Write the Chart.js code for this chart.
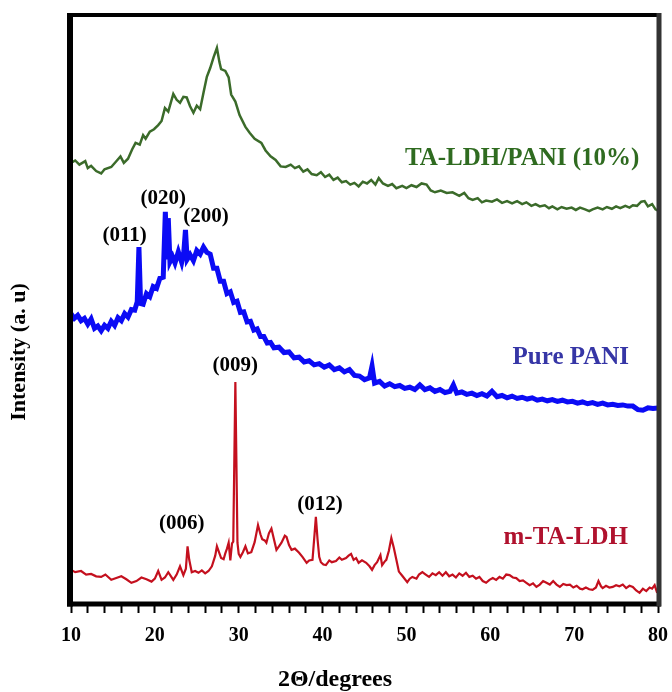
<!DOCTYPE html>
<html>
<head>
<meta charset="utf-8">
<script src="https://cdn.jsdelivr.net/npm/chart.js@4"></script>
<style>
  body { margin: 0; background: #fff; }
  #wrap { width: 672px; height: 692px; }
</style>
</head>
<body>
<div id="wrap"><canvas id="xrd" width="672" height="692"></canvas></div>
<script>
// 2 theta (deg) and intensity (a.u., stacked offsets as in the figure)
const greenTheta = [10.0,10.5,11.0,11.7,12.0,12.4,13.0,13.6,14.0,14.8,15.3,15.9,16.3,16.8,17.3,17.7,18.2,18.6,18.9,19.4,19.9,20.4,20.8,21.2,21.6,22.2,22.6,23.0,23.4,23.8,24.2,24.6,25.0,25.4,25.8,26.2,26.6,27.0,27.4,27.7,27.9,28.4,28.8,29.1,29.6,30.1,30.8,31.3,31.9,32.7,33.2,33.8,34.4,35.0,35.6,36.2,36.7,37.2,37.7,38.2,38.7,39.3,39.8,40.3,40.8,41.3,41.8,42.3,42.8,43.3,43.8,44.3,44.8,45.3,45.8,46.3,46.7,47.2,47.8,48.3,48.8,49.5,50.0,50.6,51.2,51.8,52.4,52.9,53.4,54.1,54.8,55.5,56.3,56.9,57.4,57.9,58.5,59.0,59.5,60.2,60.8,61.4,62.0,62.6,63.2,63.8,64.3,64.9,65.4,65.9,66.5,67.0,67.4,68.0,68.5,69.1,69.7,70.2,70.7,71.3,71.8,72.2,72.8,73.4,73.9,74.5,75.0,75.5,76.1,76.6,77.0,77.5,78.0,78.4,78.8,79.3,79.7,80.0]
const greenInt = [74.9,75.3,74.6,75.2,74.0,74.4,73.5,73.1,73.8,74.2,75.0,76.0,74.9,75.6,77.2,78.3,78.0,79.6,79.0,80.2,80.6,81.3,82.0,84.2,83.6,86.6,85.6,85.1,86.1,86.0,84.5,83.4,84.6,84.0,86.8,89.5,91.0,92.8,94.4,92.0,90.8,90.5,89.4,86.5,85.3,83.0,81.0,80.0,79.0,78.3,77.0,76.0,75.4,74.3,74.2,74.6,74.0,74.3,73.4,73.8,73.0,72.8,73.3,72.5,72.9,72.0,72.4,71.6,71.8,71.2,71.5,70.9,71.7,71.4,72.0,71.2,72.3,71.4,71.0,71.3,70.6,71.0,70.6,71.1,70.8,71.4,71.2,70.2,69.9,70.2,69.8,69.9,69.3,69.8,68.9,68.6,68.9,68.2,68.5,68.3,68.7,68.1,68.4,68.0,68.4,67.9,68.2,67.6,67.9,67.5,67.7,67.2,67.5,67.0,67.4,67.1,67.3,66.9,67.3,67.0,66.7,67.0,67.3,67.0,67.4,67.1,67.5,67.2,67.6,67.3,67.7,67.6,68.3,68.4,67.5,67.9,67.0,66.8]

const blueTheta = [10.0,10.4,10.8,11.2,11.6,12.0,12.4,12.8,13.2,13.6,14.0,14.4,14.8,15.2,15.6,16.0,16.4,16.8,17.2,17.6,17.9,18.1,18.3,18.6,19.0,19.4,19.8,20.2,20.6,21.0,21.25,21.45,21.6,21.8,22.1,22.4,22.8,23.2,23.45,23.65,23.85,24.2,24.6,25.0,25.4,25.8,26.2,26.6,27.0,27.4,27.8,28.2,28.6,29.0,29.4,29.8,30.2,30.6,31.0,31.4,31.8,32.2,32.6,33.0,33.4,33.8,34.2,34.8,35.4,36.0,36.6,37.2,37.8,38.4,39.0,39.6,40.2,40.8,41.4,42.0,42.6,43.2,43.8,44.4,45.0,45.6,45.9,46.2,46.8,47.4,48.0,48.6,49.2,49.8,50.4,51.0,51.6,52.2,52.8,53.4,54.0,54.6,55.2,55.6,56.0,56.6,57.2,57.8,58.4,59.0,59.6,60.2,60.8,61.4,62.0,62.6,63.2,63.8,64.4,65.0,65.6,66.2,66.8,67.4,68.0,68.6,69.2,69.8,70.4,71.0,71.6,72.2,72.8,73.4,74.0,74.6,75.2,75.8,76.4,77.0,77.6,78.2,78.8,79.4,80.0]
const blueInt = [49.3,48.5,49.0,48.1,48.5,47.5,48.4,46.8,47.2,46.4,47.3,46.8,48.0,47.3,48.6,48.1,49.3,48.7,50.0,49.9,51.3,60.6,51.0,50.9,52.7,52.2,53.9,53.6,55.3,55.5,66.6,58.5,65.5,58.1,59.0,57.9,59.8,58.0,59.7,63.5,58.5,59.3,58.3,60.0,59.4,60.6,59.7,59.4,57.0,57.0,54.8,54.8,52.7,53.0,51.2,51.4,49.5,49.6,47.9,48.0,46.5,46.7,45.4,45.4,44.3,44.4,43.5,43.6,42.7,42.8,41.8,41.9,41.1,41.3,40.6,40.8,40.2,40.6,39.8,40.1,39.4,39.8,38.8,38.7,38.1,38.4,40.4,37.5,37.8,37.0,37.4,36.9,37.1,36.6,36.8,36.4,37.2,36.4,36.7,36.1,36.4,35.9,36.1,37.2,35.8,36.0,35.6,35.8,35.4,35.7,35.3,36.1,35.2,35.4,35.0,35.3,34.9,35.1,34.8,35.0,34.6,34.8,34.5,34.7,34.4,34.6,34.3,34.4,34.1,34.3,34.0,34.2,33.9,34.1,33.8,33.9,33.7,33.8,33.6,33.6,33.0,32.9,33.3,33.2,33.3]

const redTheta = [10.0,10.5,11.2,11.8,12.4,13.0,13.6,14.1,14.8,15.4,16.0,16.6,17.2,17.8,18.4,19.0,19.6,20.0,20.4,20.8,21.2,21.6,22.2,22.6,23.0,23.4,23.7,23.9,24.1,24.4,24.8,25.2,25.6,26.0,26.4,26.8,27.2,27.4,27.7,27.9,28.2,28.4,28.6,28.8,29.0,29.2,29.35,29.6,29.85,30.0,30.2,30.5,30.8,31.1,31.5,31.9,32.3,32.6,32.8,33.1,33.3,33.6,33.9,34.2,34.5,34.8,35.1,35.5,35.7,36.0,36.3,36.7,37.2,37.6,38.1,38.4,38.8,39.05,39.2,39.4,39.6,39.8,40.1,40.4,40.8,41.1,41.6,42.0,42.3,42.8,43.1,43.4,43.7,44.0,44.3,44.7,45.2,45.6,45.9,46.2,46.5,46.9,47.1,47.4,47.6,47.9,48.2,48.5,48.8,49.1,49.5,50.1,50.4,50.7,51.2,51.5,51.9,52.3,52.7,53.1,53.5,53.9,54.3,54.7,55.1,55.5,55.9,56.3,56.7,57.1,57.5,57.9,58.3,58.7,59.1,59.5,59.9,60.3,60.7,61.1,61.5,61.9,62.3,62.7,63.1,63.5,63.9,64.3,64.7,65.1,65.5,65.9,66.3,66.7,67.1,67.5,67.9,68.3,68.7,69.1,69.5,69.9,70.3,70.7,71.0,71.4,71.8,72.2,72.6,72.9,73.2,73.4,73.8,74.2,74.6,75.0,75.4,75.8,76.2,76.6,77.0,77.4,77.8,78.2,78.6,79.0,79.3,79.6,79.9]
const redInt = [5.8,5.4,5.6,5.0,5.1,4.7,4.6,5.0,4.1,4.4,4.7,4.2,3.6,3.9,4.5,4.2,3.8,4.3,5.6,4.1,4.5,5.4,4.1,5.0,6.4,4.9,6.0,9.8,7.5,5.4,5.6,5.3,5.7,5.2,5.6,6.4,8.2,9.8,8.6,7.8,7.6,8.6,9.4,10.4,7.4,10.3,10.6,37.7,10.4,8.5,8.0,8.8,9.8,8.6,8.8,10.5,13.4,11.8,11.0,10.8,10.4,12.0,12.8,11.0,9.2,9.8,10.4,11.6,11.4,10.0,9.2,9.4,8.7,8.0,7.0,7.4,7.5,12.0,14.8,11.0,8.0,7.1,6.7,6.6,7.4,7.1,7.3,7.9,7.5,7.8,8.2,8.5,7.5,7.8,7.0,7.4,7.0,6.4,5.8,6.6,7.1,8.3,6.6,7.2,7.5,9.0,11.2,9.5,7.5,5.5,4.8,3.7,4.3,4.6,4.3,5.0,5.4,5.0,4.6,5.2,4.9,5.4,4.8,5.4,4.7,5.0,4.5,5.2,4.8,5.3,4.6,4.8,4.3,4.6,3.9,3.6,4.1,4.4,4.1,4.6,4.3,5.0,4.9,4.5,4.4,3.9,4.0,3.6,3.2,3.5,2.9,3.3,3.9,3.6,3.3,3.9,3.3,2.9,3.4,3.2,3.3,2.8,3.1,2.6,2.5,2.8,2.5,2.4,2.8,3.9,3.0,2.7,3.1,2.8,2.9,3.2,3.0,3.3,2.7,3.1,2.9,2.3,1.9,2.6,2.2,2.8,2.6,3.2,1.9]

const xTicks = [10, 20, 30, 40, 50, 60, 70, 80]

// text labels: [text, 2theta, intensity]
const peakLabels = [
  ['(011)', 16.4, 62.6],
  ['(020)', 21.0, 68.9],
  ['(200)', 26.1, 65.7],
  ['(009)', 29.6, 40.4],
  ['(006)', 23.2, 13.6],
  ['(012)', 39.7, 16.8]
]
const seriesLabels = [
  ['TA-LDH/PANI (10%)', 63.8, 75.7, '#2f6b20'],
  ['Pure PANI', 69.6, 41.8, '#3636a6'],
  ['m-TA-LDH', 69.0, 11.2, '#b0122e']
]

const SERIF = '"Liberation Serif", "Times New Roman", serif'

function pts(xs, ys) {
  return xs.map((x, i) => ({x: x, y: ys[i]}))
}

const framePlugin = {
  id: 'frame',
  afterDraw(chart) {
    const ctx = chart.ctx
    const a = chart.chartArea
    const xs = chart.scales.x, ys = chart.scales.y
    ctx.save()
    ctx.textAlign = 'center'
    ctx.textBaseline = 'middle'
    ctx.font = 'bold 21px ' + SERIF
    ctx.fillStyle = '#000'
    peakLabels.forEach(p => {
      ctx.fillText(p[0], xs.getPixelForValue(p[1]), ys.getPixelForValue(p[2]))
    })
    ctx.font = 'bold 25px ' + SERIF
    seriesLabels.forEach(s => {
      ctx.fillStyle = s[3]
      ctx.fillText(s[0], xs.getPixelForValue(s[1]), ys.getPixelForValue(s[2]))
    })

    // box round the plot
    ctx.strokeStyle = '#000'
    ctx.lineWidth = 6
    ctx.beginPath(); ctx.moveTo(a.left - 1, a.top - 2); ctx.lineTo(a.left - 1, a.bottom + 2.5); ctx.stroke()
    ctx.lineWidth = 5
    ctx.beginPath(); ctx.moveTo(a.left - 4, a.bottom); ctx.lineTo(a.right + 3, a.bottom); ctx.stroke()
    ctx.lineWidth = 4
    ctx.beginPath(); ctx.moveTo(a.left - 4, a.top); ctx.lineTo(a.right + 3, a.top); ctx.stroke()
    ctx.strokeStyle = '#333'
    ctx.lineWidth = 5
    ctx.beginPath(); ctx.moveTo(a.right + 1, a.top - 2); ctx.lineTo(a.right + 1, a.bottom + 2.5); ctx.stroke()

    // axis titles
    ctx.fillStyle = '#000'
    ctx.font = 'bold 24px ' + SERIF
    ctx.fillText('2\u0398/degrees', 335, 680)
    ctx.translate(19, 352)
    ctx.rotate(-Math.PI / 2)
    ctx.font = 'bold 22px ' + SERIF
    ctx.fillText('Intensity (a. u)', 0, 0)
    ctx.restore()
  }
}

new Chart(document.getElementById('xrd'), {
  type: 'line',
  data: {
    datasets: [
      {label: 'TA-LDH/PANI (10%)', data: pts(greenTheta, greenInt), borderColor: '#3b6b2a', borderWidth: 2.5},
      {label: 'Pure PANI', data: pts(blueTheta, blueInt), borderColor: '#0b0bf5', borderWidth: 5},
      {label: 'm-TA-LDH', data: pts(redTheta, redInt), borderColor: '#c4101e', borderWidth: 2.2}
    ]
  },
  options: {
    responsive: false,
    animation: false,
    layout: {padding: {left: 71, top: 15, right: 14, bottom: 38}},
    elements: {point: {radius: 0}, line: {tension: 0}},
    plugins: {legend: {display: false}, tooltip: {enabled: false}},
    scales: {
      x: {
        type: 'linear',
        min: 10,
        max: 80,
        border: {display: false},
        grid: {drawOnChartArea: false, drawTicks: true, tickLength: 9, tickWidth: 2, tickColor: '#000'},
        ticks: {
          stepSize: 2,
          autoSkip: false,
          maxRotation: 0,
          padding: 11,
          color: '#000',
          font: {family: SERIF, size: 20, weight: 'bold'},
          callback: v => xTicks.includes(v) ? v : ''
        },
        afterFit: s => {
          // keep the plot box fixed; end labels sit in the page margin
          s.paddingLeft = 0
          s.paddingRight = 0
          s.height = 50
        }
      },
      y: {type: 'linear', min: 0, max: 100, display: false}
    }
  },
  plugins: [framePlugin]
})
</script>
</body>
</html>
